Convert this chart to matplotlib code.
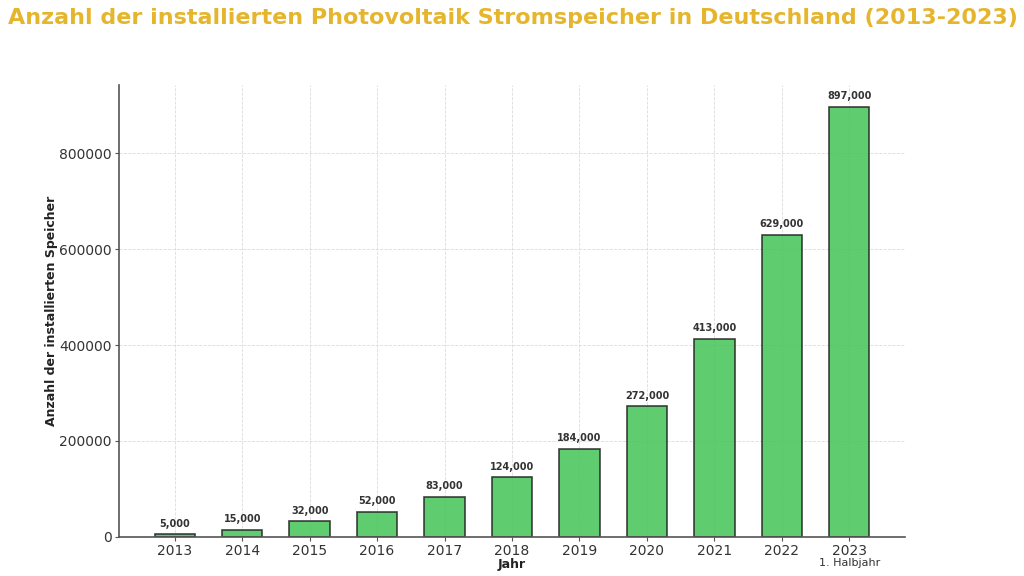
import matplotlib
matplotlib.use("Agg")
import matplotlib.pyplot as plt

# ── Data ──────────────────────────────────────────────────────────────────────
years  = ["2013", "2014", "2015", "2016", "2017", "2018",
          "2019", "2020", "2021", "2022", "2023"]
counts = [5000, 15000, 32000, 52000, 83000, 124000,
          184000, 272000, 413000, 629000, 897000]
note_2023 = "1. Halbjahr"

# ── Plot ──────────────────────────────────────────────────────────────────────
fig = plt.figure(figsize=(10.24, 5.76), dpi=100)
ax = fig.add_axes([0.116, 0.068, 0.768, 0.784])

x = range(len(years))
bars = ax.bar(x, counts, width=0.6, color="#43c456", alpha=0.85,
              edgecolor="#222222", linewidth=1.2, zorder=2)
ax.grid(True, linestyle="--", linewidth=0.6, color="#dcdcdc", zorder=0)
ax.set_axisbelow(True)

for b, v in zip(bars, counts):
    ax.text(b.get_x() + b.get_width() / 2, v + 12000, f"{v:,}",
            ha="center", va="bottom", fontsize=7, fontweight="bold",
            color="#333333", zorder=4)

ax.set_xticks(list(x))
ax.set_xticklabels(years, fontsize=10, color="#333333")
ax.tick_params(axis="y", labelsize=10, labelcolor="#333333")
ax.tick_params(length=3, color="#555555", pad=2)
ax.text(len(years) - 1, -0.046, note_2023, transform=ax.get_xaxis_transform(),
        ha="center", va="top", fontsize=8, color="#333333")

ax.set_xlabel("Jahr", fontsize=9, fontweight="bold", color="#222222", labelpad=0)
ax.set_ylabel("Anzahl der installierten Speicher", fontsize=9,
              fontweight="bold", color="#222222", labelpad=1)

for s in ["top", "right"]:
    ax.spines[s].set_visible(False)
for s in ["left", "bottom"]:
    ax.spines[s].set_color("#555555")
    ax.spines[s].set_linewidth(1.2)

fig.text(0.008, 0.968, "Anzahl der installierten Photovoltaik Stromspeicher in Deutschland (2013-2023)",
         ha="left", va="center", fontsize=16, fontweight="bold", color="#e6b52e")

plt.savefig("out.png", dpi=100)
